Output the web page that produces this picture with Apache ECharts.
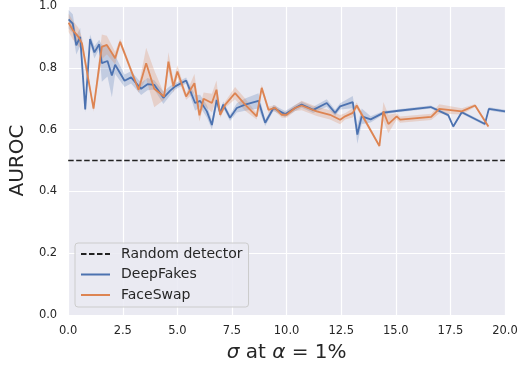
<!DOCTYPE html>
<html>
<head>
<meta charset="utf-8">
<script src="https://cdn.jsdelivr.net/npm/echarts@6/dist/echarts.min.js"></script>
<style>html,body{margin:0;padding:0;background:#fff}#c{width:522px;height:368px}</style>
</head>
<body>
<div id="c"></div>
<script>
// ---- data ----
var xTicks = [0, 2.5, 5, 7.5, 10, 12.5, 15, 17.5, 20];
var yTicks = [0, 0.2, 0.4, 0.6, 0.8, 1.0];
var randomLevel = 0.5;
var seriesNames = ['Random detector', 'DeepFakes', 'FaceSwap'];

var dfX = [0.02,0.21,0.37,0.55,0.78,1.00,1.20,1.42,1.54,1.80,2.00,2.15,2.58,2.88,3.34,3.63,3.94,4.36,4.67,4.90,5.40,5.81,6.04,6.35,6.58,6.80,6.96,7.10,7.41,7.72,8.10,8.71,9.02,9.40,9.93,10.39,10.69,11.22,11.84,12.22,12.45,13.03,13.24,13.44,13.85,14.45,15.12,16.60,17.40,17.63,18.02,19.08,19.26,20.00];
var dfY = [0.957,0.943,0.873,0.900,0.665,0.893,0.850,0.876,0.815,0.822,0.775,0.810,0.758,0.769,0.732,0.747,0.745,0.703,0.726,0.740,0.759,0.686,0.693,0.659,0.615,0.696,0.654,0.681,0.638,0.670,0.681,0.693,0.622,0.670,0.650,0.670,0.681,0.664,0.686,0.654,0.675,0.689,0.584,0.643,0.633,0.655,0.661,0.673,0.647,0.610,0.656,0.618,0.667,0.659];
var dfErr = [0.03,0.03,0.03,0.03,0.01,0.015,0.02,0.015,0.06,0.05,0.07,0.03,0.02,0.02,0.02,0.02,0.015,0.02,0.015,0.01,0.01,0.025,0.02,0.02,0.015,0.02,0.01,0.01,0.01,0.015,0.02,0.025,0.01,0.01,0.01,0.01,0.01,0.01,0.012,0.01,0.01,0.02,0.03,0.025,0.01,0.005,0.005,0.005,0.005,0.005,0.005,0.005,0.005,0.005];

var fsX = [0.02,0.21,0.47,0.63,1.16,1.54,1.77,2.15,2.38,3.22,3.57,3.94,4.39,4.59,4.82,5.00,5.40,5.78,6.01,6.20,6.58,6.79,6.96,7.19,7.64,8.10,8.63,8.86,9.17,9.47,9.78,10.00,10.39,10.69,11.38,11.99,12.45,12.68,13.03,13.21,14.25,14.43,14.66,15.04,15.20,16.62,16.99,18.02,18.63,19.24];
var fsY = [0.946,0.922,0.900,0.879,0.668,0.868,0.874,0.831,0.884,0.729,0.815,0.732,0.707,0.820,0.740,0.788,0.707,0.750,0.646,0.700,0.686,0.729,0.648,0.681,0.718,0.681,0.643,0.735,0.664,0.670,0.648,0.648,0.670,0.678,0.659,0.648,0.632,0.643,0.654,0.678,0.547,0.659,0.618,0.643,0.632,0.641,0.667,0.659,0.678,0.610];
var fsErr = [0.03,0.03,0.03,0.02,0.01,0.04,0.03,0.02,0.01,0.01,0.05,0.06,0.01,0.03,0.02,0.02,0.01,0.03,0.02,0.02,0.03,0.03,0.01,0.01,0.02,0.02,0.01,0.01,0.01,0.01,0.01,0.01,0.01,0.015,0.015,0.015,0.015,0.01,0.015,0.01,0.005,0.03,0.03,0.01,0.01,0.01,0.015,0.01,0.005,0.005];

// ---- styling ----
var BLUE = '#4C72B0', ORANGE = '#DD8452', TXT = '#262626', FONT = 'DejaVu Sans';

function zip(xs, ys) { return xs.map(function (x, i) { return [x, ys[i]]; }); }

function band(xs, ys, es, color) {
  return {
    type: 'custom', silent: true, z: 1,
    data: xs.map(function (x, i) { return [x, ys[i] - es[i], ys[i] + es[i]]; }),
    renderItem: function (params, api) {
      if (params.dataIndex !== 0) return null;
      var n = xs.length, top = [], bot = [];
      for (var i = 0; i < n; i++) {
        top.push(api.coord([api.value(0, i), api.value(2, i)]));
        bot.unshift(api.coord([api.value(0, i), api.value(1, i)]));
      }
      return { type: 'polygon', shape: { points: top.concat(bot) }, style: { fill: color } };
    }
  };
}

var chart = echarts.init(document.getElementById('c'), null, { renderer: 'canvas' });
chart.setOption({
  animation: false,
  textStyle: { fontFamily: FONT },
  grid: { left: 68, right: 17, top: 4, bottom: 53, show: true, backgroundColor: '#EAEAF2', borderWidth: 0 },
  xAxis: {
    type: 'value', min: xTicks[0], max: xTicks[xTicks.length - 1], interval: 2.5,
    axisLine: { show: false }, axisTick: { show: false },
    splitLine: { lineStyle: { color: '#ffffff', width: 1.2 } },
    axisLabel: { color: TXT, fontSize: 11.5, fontFamily: FONT, margin: 10, formatter: function (v) { return v.toFixed(1); } },
    name: '{i|σ} at {i|α} = 1%', nameLocation: 'middle', nameGap: 28,
    nameTextStyle: { color: TXT, fontSize: 20, fontFamily: FONT, rich: { i: { fontStyle: 'italic', fontSize: 20, fontFamily: FONT, color: TXT } } }
  },
  yAxis: {
    type: 'value', min: yTicks[0], max: yTicks[yTicks.length - 1], interval: 0.2,
    axisLine: { show: false }, axisTick: { show: false },
    splitLine: { lineStyle: { color: '#ffffff', width: 1.2 } },
    axisLabel: { color: TXT, fontSize: 11.5, fontFamily: FONT, margin: 11, formatter: function (v) { return v.toFixed(1); } },
    name: 'AUROC', nameLocation: 'middle', nameGap: 36, nameRotate: 90,
    nameTextStyle: { color: TXT, fontSize: 20, fontFamily: FONT }
  },
  legend: {
    data: seriesNames, orient: 'vertical', left: 75, top: 243,
    backgroundColor: 'rgba(234,234,242,0.85)', borderColor: '#cccccc', borderWidth: 1, borderRadius: 3,
    padding: [4, 6, 5, 5], itemWidth: 29, itemHeight: 14, itemGap: 6.5,
    itemStyle: { opacity: 0 },
    textStyle: { color: TXT, fontSize: 14, fontFamily: FONT, padding: [0, 0, 0, 6] }
  },
  series: [
    band(dfX, dfY, dfErr, 'rgba(76,114,176,0.25)'),
    band(fsX, fsY, fsErr, 'rgba(221,132,82,0.25)'),
    {
      name: seriesNames[0], type: 'line', symbol: 'none', z: 3,
      data: [[xTicks[0], randomLevel], [xTicks[xTicks.length - 1], randomLevel]],
      lineStyle: { color: '#222222', width: 1.6, type: [5.5, 2.5] }, itemStyle: { color: '#222222' }
    },
    {
      name: seriesNames[1], type: 'line', symbol: 'none', z: 4,
      data: zip(dfX, dfY), lineStyle: { color: BLUE, width: 1.8 }, itemStyle: { color: BLUE }
    },
    {
      name: seriesNames[2], type: 'line', symbol: 'none', z: 5,
      data: zip(fsX, fsY), lineStyle: { color: ORANGE, width: 1.8 }, itemStyle: { color: ORANGE }
    }
  ]
});
</script>
</body>
</html>
